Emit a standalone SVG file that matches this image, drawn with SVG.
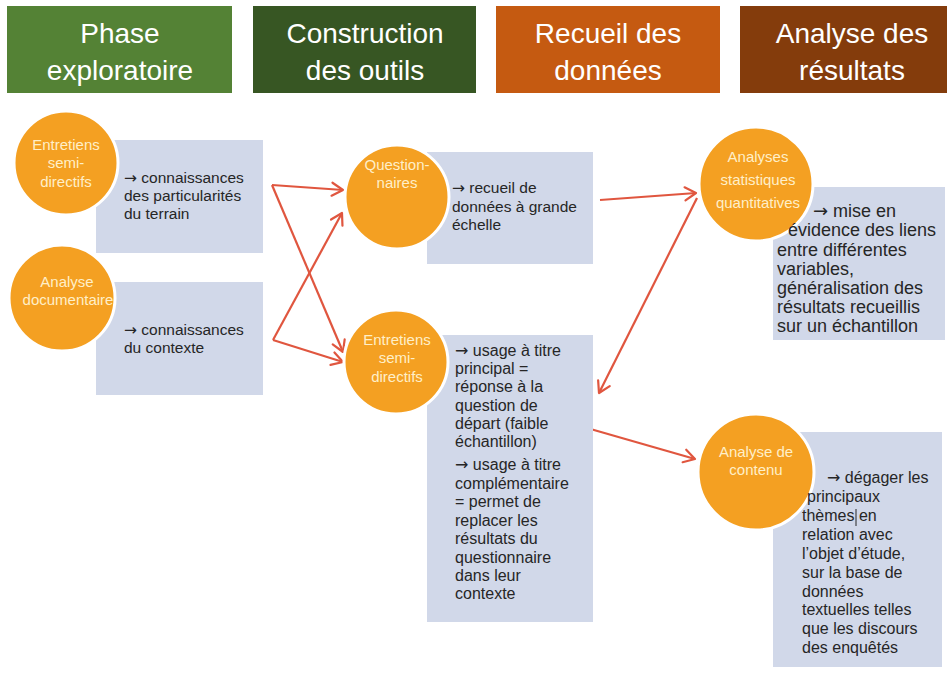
<svg xmlns="http://www.w3.org/2000/svg" width="947" height="673" viewBox="0 0 947 673">
<defs>
<style>
.hdr{font-family:"Liberation Sans",Arial,sans-serif;font-size:28px;fill:#ffffff;text-anchor:middle}
.ct{font-family:"Liberation Sans",Arial,sans-serif;font-size:15px;fill:#FFEFC8;text-anchor:middle}
.bx{fill:#D1D8E9}
.circ{fill:#F4A022;stroke:#ffffff;stroke-width:3}
.t{font-family:"Liberation Sans",Arial,sans-serif;font-size:15.5px;fill:#262626}
.t16{font-family:"Liberation Sans",Arial,sans-serif;font-size:16px;fill:#262626}
.t18{font-family:"Liberation Sans",Arial,sans-serif;font-size:18px;fill:#262626}
.ar{font-family:"DejaVu Sans",sans-serif}
.arr{stroke:#E0563F;stroke-width:2.2;fill:none;marker-end:url(#ah)}
</style>
<marker id="ah" markerUnits="userSpaceOnUse" markerWidth="16" markerHeight="16" refX="13" refY="8" orient="auto">
<path d="M2,1.5 L13,8 L2,14.5" fill="none" stroke="#E0563F" stroke-width="2.2" stroke-linecap="round" stroke-linejoin="round"/>
</marker>
</defs>
<rect width="947" height="673" fill="#ffffff"/>

<g id="header-phase">
<rect x="7" y="6" width="225" height="87" fill="#548235"/>
<text class="hdr" x="120" y="43">Phase</text>
<text class="hdr" x="120" y="80">exploratoire</text>
</g>
<g id="header-construction">
<rect x="253" y="6" width="223" height="87" fill="#375623"/>
<text class="hdr" x="365" y="43">Construction</text>
<text class="hdr" x="365" y="80">des outils</text>
</g>
<g id="header-recueil">
<rect x="496" y="6" width="224" height="87" fill="#C55A11"/>
<text class="hdr" x="608" y="43">Recueil des</text>
<text class="hdr" x="608" y="80">données</text>
</g>
<g id="header-analyse">
<rect x="740" y="6" width="207" height="87" fill="#843C0C"/>
<text class="hdr" x="852" y="43">Analyse des</text>
<text class="hdr" x="852" y="80">résultats</text>
</g>

<g id="connectors">
<line class="arr" x1="272" y1="185" x2="343" y2="190"/>
<line class="arr" x1="272" y1="185" x2="343" y2="352"/>
<line class="arr" x1="273" y1="340" x2="342" y2="213"/>
<line class="arr" x1="273" y1="340" x2="343" y2="362"/>
<line class="arr" x1="600" y1="200" x2="696" y2="193"/>
<line class="arr" x1="697" y1="198" x2="599" y2="393"/>
<line class="arr" x1="587" y1="428" x2="695" y2="459"/>
</g>

<g id="node-entretiens-explo">
<rect class="bx" x="96" y="140" width="167" height="113"/>
<circle class="circ" cx="66" cy="163" r="52"/>
<text class="ct" x="66" y="150">Entretiens</text>
<text class="ct" x="66" y="168">semi-</text>
<text class="ct" x="66" y="187">directifs</text>
<text class="t" x="124" y="183"><tspan class="ar">→</tspan> connaissances</text>
<text class="t" x="124" y="201">des particularités</text>
<text class="t" x="124" y="219">du terrain</text>
</g>

<g id="node-analyse-doc">
<rect class="bx" x="96" y="282" width="167" height="113"/>
<circle class="circ" cx="62" cy="298" r="53"/>
<text class="ct" x="67" y="287">Analyse</text>
<text class="ct" x="68" y="305">documentaire</text>
<text class="t" x="124" y="335"><tspan class="ar">→</tspan> connaissances</text>
<text class="t" x="124" y="353">du contexte</text>
</g>

<g id="node-questionnaires">
<rect class="bx" x="427" y="152" width="166" height="112"/>
<circle class="circ" cx="397" cy="197" r="52"/>
<text class="ct" x="397" y="170">Question-</text>
<text class="ct" x="397" y="188">naires</text>
<text class="t" x="452" y="193"><tspan class="ar">→</tspan> recueil de</text>
<text class="t" x="452" y="212">données à grande</text>
<text class="t" x="452" y="230">échelle</text>
</g>

<g id="node-entretiens-construction">
<rect class="bx" x="427" y="335" width="166" height="287"/>
<circle class="circ" cx="396" cy="362" r="52"/>
<text class="ct" x="397" y="345">Entretiens</text>
<text class="ct" x="397" y="363">semi-</text>
<text class="ct" x="397" y="382">directifs</text>
<text class="t16" x="455" y="356"><tspan class="ar">→</tspan> usage à titre</text>
<text class="t16" x="455" y="374">principal =</text>
<text class="t16" x="455" y="392">réponse à la</text>
<text class="t16" x="455" y="411">question de</text>
<text class="t16" x="455" y="429">départ (faible</text>
<text class="t16" x="455" y="447">échantillon)</text>
<text class="t16" x="455" y="470"><tspan class="ar">→</tspan> usage à titre</text>
<text class="t16" x="455" y="489">complémentaire</text>
<text class="t16" x="455" y="507">= permet de</text>
<text class="t16" x="455" y="526">replacer les</text>
<text class="t16" x="455" y="544">résultats du</text>
<text class="t16" x="455" y="563">questionnaire</text>
<text class="t16" x="455" y="581">dans leur</text>
<text class="t16" x="455" y="599">contexte</text>
</g>

<g id="node-analyses-stat">
<rect class="bx" x="773" y="187" width="172" height="153"/>
<circle class="circ" cx="756" cy="184" r="57"/>
<text class="ct" x="758" y="162">Analyses</text>
<text class="ct" x="758" y="185">statistiques</text>
<text class="ct" x="758" y="208">quantitatives</text>
<text class="t18" x="813" y="217"><tspan class="ar">→</tspan> mise en</text>
<text class="t18" x="788" y="236">évidence des liens</text>
<text class="t18" x="777" y="256">entre différentes</text>
<text class="t18" x="777" y="275">variables,</text>
<text class="t18" x="777" y="294">généralisation des</text>
<text class="t18" x="777" y="313">résultats recueillis</text>
<text class="t18" x="777" y="332">sur un échantillon</text>
</g>

<g id="node-analyse-contenu">
<rect class="bx" x="773" y="432" width="169" height="235"/>
<circle class="circ" cx="756" cy="472" r="58"/>
<text class="ct" x="756" y="457">Analyse de</text>
<text class="ct" x="756" y="475">contenu</text>
<text class="t16" x="827" y="483"><tspan class="ar">→</tspan> dégager les</text>
<text class="t16" x="807" y="502">principaux</text>
<text class="t16" x="802" y="521">thèmes en</text>
<line x1="856" y1="509" x2="856" y2="526" stroke="#262626" stroke-width="1"/>
<text class="t16" x="802" y="540">relation avec</text>
<text class="t16" x="802" y="559">l’objet d’étude,</text>
<text class="t16" x="802" y="578">sur la base de</text>
<text class="t16" x="802" y="597">données</text>
<text class="t16" x="802" y="615">textuelles telles</text>
<text class="t16" x="802" y="634">que les discours</text>
<text class="t16" x="802" y="653">des enquêtés</text>
</g>
</svg>
